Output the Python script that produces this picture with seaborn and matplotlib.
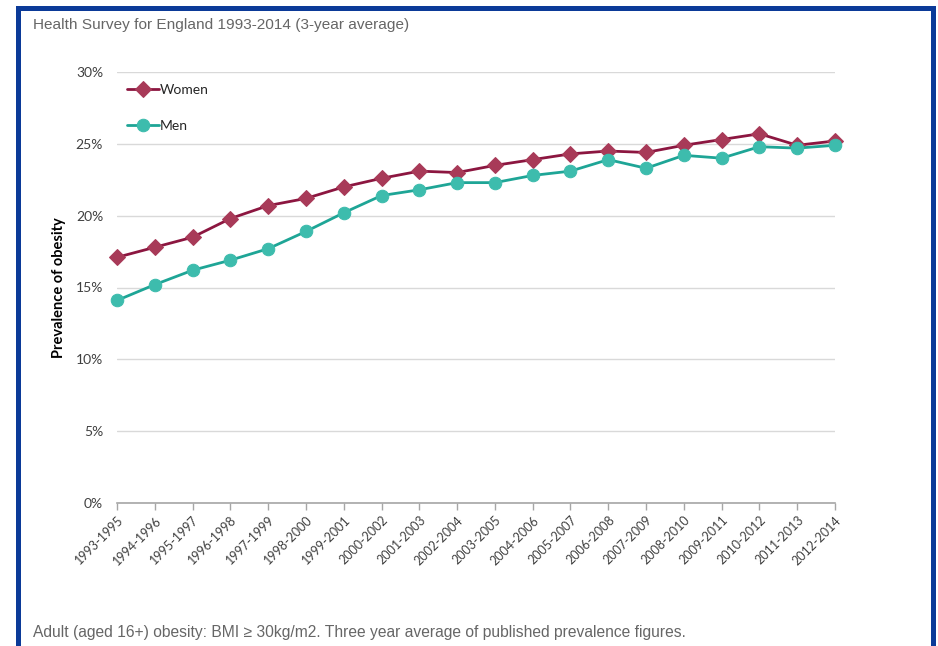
import matplotlib
matplotlib.use("Agg")
import matplotlib.pyplot as plt
from matplotlib.patches import Rectangle
from matplotlib.ticker import FuncFormatter
import seaborn as sns
import pandas as pd

periods = ["1993-1995", "1994-1996", "1995-1997", "1996-1998", "1997-1999",
           "1998-2000", "1999-2001", "2000-2002", "2001-2003", "2002-2004",
           "2003-2005", "2004-2006", "2005-2007", "2006-2008", "2007-2009",
           "2008-2010", "2009-2011", "2010-2012", "2011-2013", "2012-2014"]
women = [17.1, 17.8, 18.5, 19.8, 20.7, 21.2, 22.0, 22.6, 23.1, 23.0,
         23.5, 23.9, 24.3, 24.5, 24.4, 24.9, 25.3, 25.7, 24.9, 25.2]
men = [14.1, 15.2, 16.2, 16.9, 17.7, 18.9, 20.2, 21.4, 21.8, 22.3,
       22.3, 22.8, 23.1, 23.9, 23.3, 24.2, 24.0, 24.8, 24.7, 24.9]
y_ticks = [0, 5, 10, 15, 20, 25, 30]

df = pd.DataFrame({
    "pos": list(range(len(periods))) * 2,
    "period": periods * 2,
    "value": women + men,
    "sex": ["Women"] * len(periods) + ["Men"] * len(periods),
})

sns.set_theme(style="white")
plt.rcParams["font.family"] = ["Lato", "DejaVu Sans"]

fig = plt.figure(figsize=(9.38, 6.46), dpi=100)
ax = fig.add_axes([117 / 938, 1 - 503 / 646, (835 - 117) / 938, (503 - 72) / 646])

styles = {
    "Women": dict(color="#8c1640", marker="D", mfc="#a83a58", mec="#a83a58", ms=8.5),
    "Men": dict(color="#1ea596", marker="o", mfc="#3dbcad", mec="#3dbcad", ms=9),
}
for sex in ["Women", "Men"]:
    st = styles[sex]
    sns.lineplot(data=df[df["sex"] == sex], x="pos", y="value", ax=ax,
                 color=st["color"], marker=st["marker"], markerfacecolor=st["mfc"],
                 markeredgecolor=st["mec"], markersize=st["ms"], linewidth=2.0,
                 label=sex, errorbar=None, clip_on=False, zorder=3)

ax.set_xlim(0, len(periods) - 1)
ax.set_ylim(0, 30)
ax.set_yticks(y_ticks)
ax.yaxis.set_major_formatter(FuncFormatter(lambda v, _: f"{v:.0f}%"))
ax.set_xticks(range(len(periods)))
ax.set_xticklabels(periods, rotation=45, ha="right", rotation_mode="anchor",
                   fontsize=9, color="#404040")
ax.tick_params(axis="y", labelsize=10, labelcolor="#404040", length=0, pad=10)
ax.tick_params(axis="x", length=5, width=1, color="#a6a6a6", direction="out",
               bottom=True, pad=3)

ax.grid(axis="y", color="#d9d9d9", linewidth=1)
ax.grid(axis="x", visible=False)
for side in ["top", "right", "left"]:
    ax.spines[side].set_visible(False)
ax.spines["bottom"].set_color("#a6a6a6")
ax.spines["bottom"].set_linewidth(1.2)

ax.set_xlabel("")
ax.set_ylabel("Prevalence of obesity", fontsize=10.5, fontweight="bold",
              color="#000000", labelpad=7)

leg = ax.legend(loc="upper left", bbox_to_anchor=(0.0, 0.995), frameon=False,
                fontsize=10, handlelength=2.3, handletextpad=0.1,
                labelspacing=1.75, borderaxespad=0.3)
for t in leg.get_texts():
    t.set_color("#262626")

fig.text(33 / 938, 1 - 25 / 646, "Health Survey for England 1993-2014 (3-year average)",
         fontsize=11.1, color="#666666", family=["Liberation Sans", "DejaVu Sans"],
         va="center", ha="left")
fig.text(33 / 938, 1 - 632 / 646,
         "Adult (aged 16+) obesity: BMI \u2265 30kg/m2. Three year average of published prevalence figures.",
         fontsize=11.25, color="#666666", family=["Liberation Sans", "DejaVu Sans"],
         va="center", ha="left")

# blue frame around the panel
fig.patches.append(Rectangle((17.5 / 938, -0.05), (932.5 - 17.5) / 938, (1 - 7.5 / 646) + 0.05,
                             transform=fig.transFigure, fill=False,
                             edgecolor="#0b3a98", linewidth=3.6, zorder=0))

fig.savefig("out.png", dpi=100)
